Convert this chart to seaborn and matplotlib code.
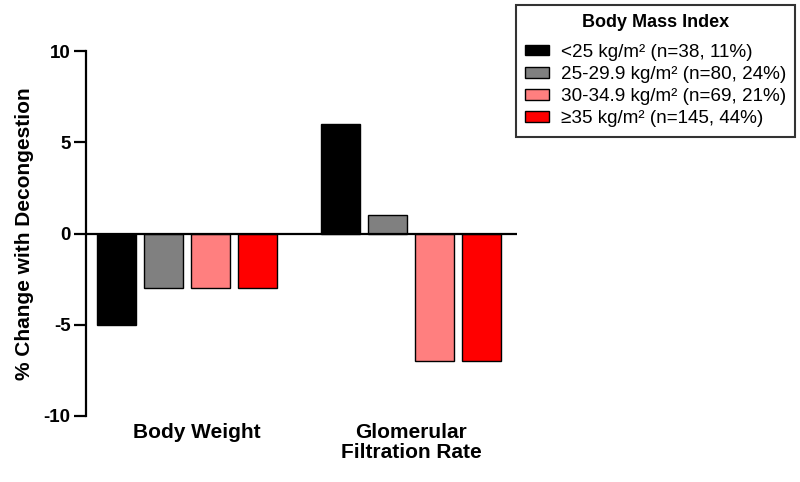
import numpy as np
import pandas as pd
import matplotlib
matplotlib.use('Agg')
import matplotlib.pyplot as plt
import matplotlib.transforms as mtransforms
import seaborn as sns

# --- Data ---
measures = ["Body Weight", "Glomerular\nFiltration Rate"]
bmi_groups = [
    "<25 kg/m\u00b2 (n=38, 11%)",
    "25-29.9 kg/m\u00b2 (n=80, 24%)",
    "30-34.9 kg/m\u00b2 (n=69, 21%)",
    "\u226535 kg/m\u00b2 (n=145, 44%)",
]
body_weight = [-5, -3, -3, -3]
gfr = [6, 1, -7, -7]
bar_colors = ["#000000", "#808080", "#FF7F7F", "#FF0000"]
y_ticks = [-10, -5, 0, 5, 10]

rows = []
for grp, bw, g in zip(bmi_groups, body_weight, gfr):
    rows.append({"measure": measures[0], "bmi": grp, "change": bw})
    rows.append({"measure": measures[1], "bmi": grp, "change": g})
df = pd.DataFrame(rows)

sns.set_style("white")
plt.rcParams['font.family'] = ['Liberation Sans', 'DejaVu Sans']
plt.rcParams['text.color'] = 'black'
plt.rcParams['axes.labelcolor'] = 'black'
plt.rcParams['xtick.color'] = 'black'
plt.rcParams['ytick.color'] = 'black'

fig = plt.figure(figsize=(8, 4.82), dpi=100)
ax = fig.add_axes([0.1075, 0.137, 0.539, 0.757])

sns.barplot(data=df, x="measure", y="change", hue="bmi", order=measures,
            hue_order=bmi_groups, palette=bar_colors, saturation=1,
            width=0.84, gap=0.17, edgecolor="black", linewidth=1,
            errorbar=None, ax=ax)

ax.axhline(0, color="black", lw=1.6, zorder=5)
ax.set_xlim(-0.451, 1.473)
ax.set_ylim(-10, 10)
ax.set_yticks(y_ticks)
ax.set_yticklabels([str(t) for t in y_ticks], fontsize=13.5, fontweight="bold")

for side in ["top", "right", "bottom"]:
    ax.spines[side].set_visible(False)
ax.spines["left"].set_linewidth(1.6)
ax.spines["left"].set_color("black")
ax.tick_params(axis="y", direction="out", length=9, width=1.6, left=True, pad=2)
ax.tick_params(axis="x", length=0, pad=5)
ax.set_xticks(range(len(measures)))
ax.set_xticklabels(measures, fontsize=15, fontweight="bold", va="top", linespacing=1.05)
# the first category label sits a little right of its bars in the original
lbl = ax.get_xticklabels()[0]
lbl.set_transform(lbl.get_transform() + mtransforms.ScaledTranslation(10 / 100, 0, fig.dpi_scale_trans))
ax.set_xlabel("")
ax.set_ylabel("% Change with Decongestion", fontsize=15, fontweight="bold", labelpad=7)

ax.get_legend().remove()
handles = [plt.Rectangle((0, 0), 1, 1, facecolor=c, edgecolor="black", lw=1) for c in bar_colors]
leg = fig.legend(handles, bmi_groups, title="Body Mass Index", loc="upper right",
                 bbox_to_anchor=(0.994, 0.99), fontsize=13.6, title_fontsize=13,
                 fancybox=False, frameon=True, edgecolor="#333333", framealpha=1,
                 handlelength=1.25, handleheight=0.5, labelspacing=0.27,
                 borderpad=0.5, handletextpad=0.62, borderaxespad=0)
leg.get_title().set_fontweight("bold")
leg._legend_box.sep = 9
leg.get_frame().set_linewidth(1.5)

fig.savefig("out.png", dpi=100)
